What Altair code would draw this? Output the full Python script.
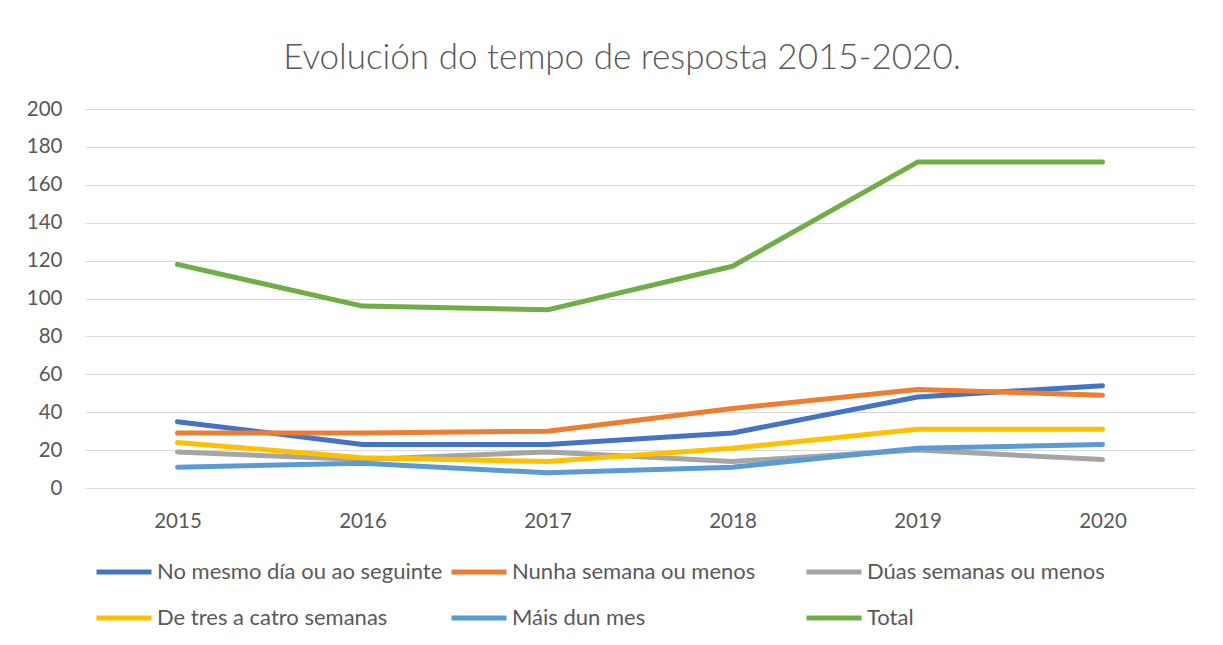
import altair as alt
import pandas as pd

years = ["2015", "2016", "2017", "2018", "2019", "2020"]
series_names = [
    "No mesmo día ou ao seguinte",
    "Nunha semana ou menos",
    "Dúas semanas ou menos",
    "De tres a catro semanas",
    "Máis dun mes",
    "Total",
]
mesmo_dia = [35, 23, 23, 29, 48, 54]
unha_semana = [29, 29, 30, 42, 52, 49]
duas_semanas = [19, 15, 19, 14, 20, 15]
tres_catro = [24, 16, 14, 21, 31, 31]
mais_mes = [11, 13, 8, 11, 21, 23]
total = [118, 96, 94, 117, 172, 172]
colors = ["#4472C4", "#ED7D31", "#A5A5A5", "#FFC000", "#5B9BD5", "#70AD47"]
y_ticks = [0, 20, 40, 60, 80, 100, 120, 140, 160, 180, 200]

all_values = [mesmo_dia, unha_semana, duas_semanas, tres_catro, mais_mes, total]
rows = []
for name, vals in zip(series_names, all_values):
    for yr, v in zip(years, vals):
        rows.append({"Ano": yr, "Serie": name, "Valor": v})
df = pd.DataFrame(rows)

font = "Lato"
text_color = "#595959"

chart = (
    alt.Chart(df)
    .mark_line(strokeWidth=5, strokeCap="round", strokeJoin="round")
    .encode(
        x=alt.X(
            "Ano:N",
            sort=years,
            scale=alt.Scale(type="point", padding=0.5),
            axis=alt.Axis(
                title=None,
                labelAngle=0,
                labelFont=font,
                labelFontSize=20.5,
                labelColor=text_color,
                labelPadding=23,
                domain=False,
                ticks=False,
                grid=False,
            ),
        ),
        y=alt.Y(
            "Valor:Q",
            scale=alt.Scale(domain=[0, 200], nice=False),
            axis=alt.Axis(
                title=None,
                values=y_ticks,
                labelFont=font,
                labelFontSize=20.5,
                labelColor=text_color,
                labelPadding=23,
                domain=False,
                ticks=False,
                grid=True,
                gridColor="#D9D9D9",
                gridWidth=1,
            ),
        ),
        color=alt.Color(
            "Serie:N",
            sort=series_names,
            scale=alt.Scale(domain=series_names, range=colors),
            legend=alt.Legend(
                title=None,
                orient="none",
                direction="horizontal",
                legendX=9,
                legendY=433,
                columns=3,
                gridAlign="all",
                columnPadding=-2,
                rowPadding=5,
                symbolType="stroke",
                symbolSize=3025,
                symbolStrokeWidth=5,
                labelFont=font,
                labelFontSize=22,
                labelColor=text_color,
                labelOffset=3,
                labelLimit=500,
                padding=0,
            ),
        ),
        order=alt.Order("Serie:N"),
    )
    .properties(
        width=1110,
        height=379,
        title=alt.TitleParams(
            "Evolución do tempo de resposta 2015-2020.",
            font=font,
            fontSize=35,
            fontWeight=300,
            color=text_color,
            anchor="middle",
            dx=-18,
            offset=23,
        ),
        autosize=alt.AutoSizeParams(type="none"),
        padding={"left": 77, "top": 101, "right": 20, "bottom": 150},
    )
    .configure(background="white")
    .configure_view(stroke=None)
)

chart.save("out.html", embed_options={"renderer": "svg", "actions": False})
